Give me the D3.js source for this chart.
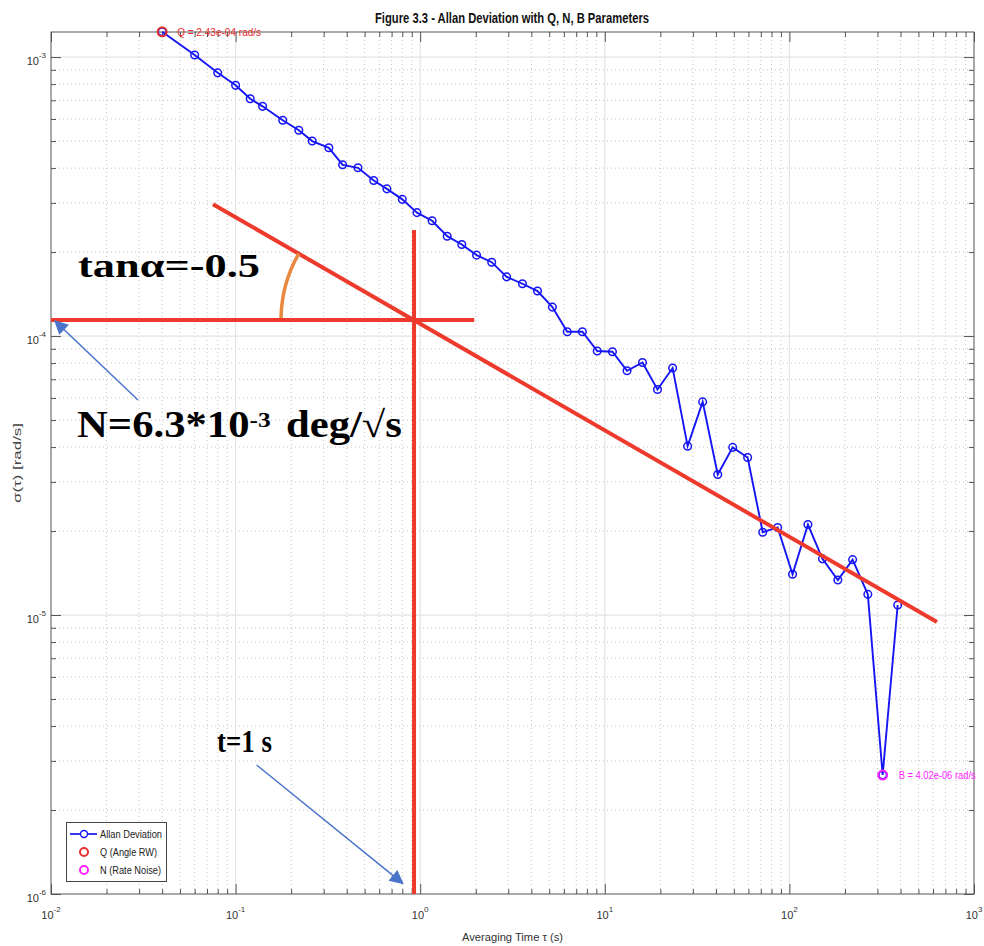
<!DOCTYPE html>
<html><head><meta charset="utf-8">
<script src="https://cdn.jsdelivr.net/npm/d3@7"></script>
<style>body{margin:0;background:#fff}</style>
</head><body>
<svg id="c" width="984" height="946" xmlns="http://www.w3.org/2000/svg"></svg>
<script>
// ---------------- data ----------------
const tau = [0.04, 0.06, 0.08, 0.10, 0.12, 0.14, 0.18, 0.22, 0.26, 0.32, 0.38, 0.46, 0.56, 0.66, 0.80, 0.96,
  1.16, 1.40, 1.68, 2.02, 2.44, 2.94, 3.58, 4.32, 5.2, 6.26, 7.56, 9.1, 11.0, 13.2, 16.0, 19.3, 23.3, 28.1,
  33.9, 40.9, 49.3, 59.4, 71.7, 86.4, 104, 126, 151, 183, 220, 266, 320, 386];
const sigma = [1.232e-3, 1.017e-3, 8.78e-4, 7.92e-4, 7.09e-4, 6.66e-4, 5.94e-4, 5.47e-4, 5.00e-4, 4.73e-4,
  4.11e-4, 4.01e-4, 3.61e-4, 3.37e-4, 3.09e-4, 2.77e-4, 2.59e-4, 2.28e-4, 2.13e-4, 1.95e-4, 1.84e-4, 1.63e-4,
  1.54e-4, 1.45e-4, 1.27e-4, 1.036e-4, 1.036e-4, 8.84e-5, 8.79e-5, 7.51e-5, 8.04e-5, 6.43e-5, 7.68e-5, 4.03e-5,
  5.81e-5, 3.19e-5, 3.99e-5, 3.67e-5, 1.98e-5, 2.06e-5, 1.40e-5, 2.11e-5, 1.59e-5, 1.335e-5, 1.58e-5, 1.186e-5,
  2.67e-6, 1.086e-5];
const xTickValues = [1e-2, 1e-1, 1, 10, 100, 1000];
const xTickExps = ["-2", "-1", "0", "1", "2", "3"];
const yTickValues = [1e-6, 1e-5, 1e-4, 1e-3];
const yTickExps = ["-6", "-5", "-4", "-3"];
const qPoint = [0.04, 1.232e-3];
const qLabel = "Q = 2.43e-04 rad/s";
const bPoint = [320, 2.67e-6];
const bLabel = "B = 4.02e-06 rad/s";
const legendLabels = ["Allan Deviation", "Q (Angle RW)", "N (Rate Noise)"];
const titleText = "Figure 3.3 - Allan Deviation with Q, N, B Parameters";
const xLabelText = "Averaging Time \u03C4 (s)";
const yLabelText = "\u03C3(\u03C4) [rad/s]";
// annotation geometry in data units
const slopeLine = [[0.0754, 2.97e-4], [630, 9.44e-6]];
const nLevelLine = [[0.01, 1.141e-4], [1.96, 1.141e-4]];
const tLine = [[0.926, 2.40e-4], [0.926, 1e-6]];
const nArrow = [[0.0296, 5.9e-5], [0.01051, 1.132e-4]];
const tArrow = [[0.130, 2.9e-6], [0.804, 1.092e-6]];

// ---------------- layout ----------------
const L = 51, R = 974, T = 32, B = 894;
const x = d3.scaleLog().domain([0.01, 1000]).range([L, R]);
const y = d3.scaleLog().domain([1e-6, 1.23e-3]).range([B, T]);
const svg = d3.select("#c");
svg.append("rect").attr("width", 984).attr("height", 946).attr("fill", "#fff");

const xMinor = [], yMinor = [];
for (let d = -2; d <= 2; d++) for (let m = 2; m <= 9; m++) xMinor.push(m * Math.pow(10, d));
for (let d = -6; d <= -4; d++) for (let m = 2; m <= 9; m++) yMinor.push(m * Math.pow(10, d));

// grid
const grid = svg.append("g");
grid.selectAll(".gxm").data(xMinor).join("line")
  .attr("x1", d => x(d)).attr("x2", d => x(d)).attr("y1", T).attr("y2", B)
  .attr("stroke", "#c4c4c4").attr("stroke-width", 1).attr("stroke-dasharray", "1,3");
grid.selectAll(".gym").data(yMinor).join("line")
  .attr("y1", d => y(d)).attr("y2", d => y(d)).attr("x1", L).attr("x2", R)
  .attr("stroke", "#c4c4c4").attr("stroke-width", 1).attr("stroke-dasharray", "1,3");
grid.selectAll(".gxM").data(xTickValues.slice(1, -1)).join("line")
  .attr("x1", d => x(d)).attr("x2", d => x(d)).attr("y1", T).attr("y2", B)
  .attr("stroke", "#e4e4e4").attr("stroke-width", 1.2);
grid.selectAll(".gyM").data(yTickValues.slice(1)).join("line")
  .attr("y1", d => y(d)).attr("y2", d => y(d)).attr("x1", L).attr("x2", R)
  .attr("stroke", "#e4e4e4").attr("stroke-width", 1.2);

// axes ticks (inward)
function ax(gen, vals, size, tr) {
  const g = svg.append("g").attr("transform", tr)
    .call(gen.tickValues(vals).tickSize(-size).tickFormat(""));
  g.select(".domain").remove();
  g.selectAll(".tick line").attr("stroke", "#555").attr("stroke-width", 1);
}
ax(d3.axisBottom(x), xTickValues, 10, `translate(0,${B})`);
ax(d3.axisBottom(x), xMinor, 5, `translate(0,${B})`);
ax(d3.axisTop(x), xTickValues, 10, `translate(0,${T})`);
ax(d3.axisTop(x), xMinor, 5, `translate(0,${T})`);
ax(d3.axisLeft(y), yTickValues, 10, `translate(${L},0)`);
ax(d3.axisLeft(y), yMinor, 5, `translate(${L},0)`);
ax(d3.axisRight(y), yTickValues, 10, `translate(${R},0)`);
ax(d3.axisRight(y), yMinor, 5, `translate(${R},0)`);

svg.append("rect").attr("x", L).attr("y", T).attr("width", R - L).attr("height", B - T)
  .attr("fill", "none").attr("stroke", "#555").attr("stroke-width", 1);

// tick labels with superscripts
const font = "'Liberation Sans', Arial, Helvetica, sans-serif";
xTickValues.forEach((v, i) => {
  const t = svg.append("text").attr("x", x(v)).attr("y", 919).attr("text-anchor", "middle")
    .attr("font-family", font).attr("font-size", 11).attr("fill", "#333");
  t.append("tspan").text("10");
  t.append("tspan").attr("dy", -7).attr("font-size", 8).text(xTickExps[i]);
});
yTickValues.forEach((v, i) => {
  const t = svg.append("text").attr("x", 46).attr("y", y(v) + 8).attr("text-anchor", "end")
    .attr("font-family", font).attr("font-size", 11).attr("fill", "#333");
  t.append("tspan").text("10");
  t.append("tspan").attr("dy", -7).attr("font-size", 8).text(yTickExps[i]);
});

// title and axis labels
svg.append("text").attr("x", 375).attr("y", 23).attr("font-family", font).attr("font-weight", "bold")
  .attr("font-size", 14).attr("fill", "#111").attr("textLength", 274).attr("lengthAdjust", "spacingAndGlyphs")
  .text(titleText);
svg.append("text").attr("x", 462).attr("y", 941).attr("font-family", font)
  .attr("font-size", 11.5).attr("fill", "#333").attr("textLength", 101).attr("lengthAdjust", "spacingAndGlyphs")
  .text(xLabelText);
svg.append("text").attr("transform", "translate(21,503) rotate(-90)").attr("font-family", font)
  .attr("font-size", 11.5).attr("fill", "#444").attr("textLength", 80).attr("lengthAdjust", "spacingAndGlyphs")
  .text(yLabelText);

// ---------------- data line ----------------
const pts = tau.map((t, i) => [t, sigma[i]]);
const line = d3.line().x(d => x(d[0])).y(d => y(d[1]));
svg.append("path").attr("d", line(pts)).attr("fill", "none").attr("stroke", "#1515f5").attr("stroke-width", 1.9);
svg.selectAll(".pt").data(pts).join("circle")
  .attr("cx", d => x(d[0])).attr("cy", d => y(d[1])).attr("r", 3.8)
  .attr("fill", "none").attr("stroke", "#1515f5").attr("stroke-width", 1.5);

// Q and B markers
svg.append("circle").attr("cx", x(qPoint[0])).attr("cy", y(qPoint[1])).attr("r", 4.5)
  .attr("fill", "none").attr("stroke", "#e83030").attr("stroke-width", 2);
svg.append("text").attr("x", x(qPoint[0]) + 15).attr("y", y(qPoint[1]) + 4)
  .attr("font-family", font).attr("font-size", 10.5).attr("fill", "#e83030")
  .attr("textLength", 84).attr("lengthAdjust", "spacingAndGlyphs").text(qLabel);
svg.append("circle").attr("cx", x(bPoint[0])).attr("cy", y(bPoint[1])).attr("r", 4.5)
  .attr("fill", "none").attr("stroke", "#ff22ff").attr("stroke-width", 2);
svg.append("text").attr("x", x(bPoint[0]) + 16).attr("y", y(bPoint[1]) + 4)
  .attr("font-family", font).attr("font-size", 10.5).attr("fill", "#ff22ff")
  .attr("textLength", 77).attr("lengthAdjust", "spacingAndGlyphs").text(bLabel);

// ---------------- legend ----------------
const lg = svg.append("g");
lg.append("rect").attr("x", 66.5).attr("y", 822.5).attr("width", 100).attr("height", 59)
  .attr("fill", "#fff").attr("stroke", "#444").attr("stroke-width", 1);
lg.append("line").attr("x1", 70).attr("x2", 97).attr("y1", 834).attr("y2", 834)
  .attr("stroke", "#1515f5").attr("stroke-width", 1.7);
lg.append("circle").attr("cx", 84).attr("cy", 834).attr("r", 3.5).attr("fill", "#fff")
  .attr("stroke", "#1515f5").attr("stroke-width", 1.4);
lg.append("circle").attr("cx", 84).attr("cy", 852).attr("r", 4).attr("fill", "none")
  .attr("stroke", "#e83030").attr("stroke-width", 2);
lg.append("circle").attr("cx", 84).attr("cy", 870).attr("r", 4).attr("fill", "none")
  .attr("stroke", "#ff22ff").attr("stroke-width", 2);
const lgW = [62, 57, 61];
legendLabels.forEach((s, i) => {
  lg.append("text").attr("x", 100).attr("y", 837.5 + i * 18).attr("font-family", font)
    .attr("font-size", 10).attr("fill", "#222").attr("textLength", lgW[i])
    .attr("lengthAdjust", "spacingAndGlyphs").text(s);
});

// ---------------- annotations ----------------
const red = "#ee3a2c";
const ann = svg.append("g");
[slopeLine, nLevelLine, tLine].forEach(seg => {
  ann.append("path").attr("d", line(seg)).attr("stroke", red).attr("stroke-width", 4).attr("fill", "none");
});
// angle arc
const cx = x(tLine[0][0]), cy = y(nLevelLine[0][1]);
const sx0 = x(slopeLine[0][0]), sy0 = y(slopeLine[0][1]);
const len = Math.hypot(sx0 - cx, sy0 - cy), r = 133;
const ex = cx + (sx0 - cx) / len * r, ey = cy + (sy0 - cy) / len * r;
ann.append("path").attr("d", `M${cx - r},${cy - 2} A${r},${r} 0 0 1 ${ex},${ey}`)
  .attr("fill", "none").attr("stroke", "#e8893f").attr("stroke-width", 3.5);

// arrows
const blue = "#4a74c9";
svg.append("defs").append("marker").attr("id", "ah").attr("viewBox", "0 0 10 10")
  .attr("refX", 9).attr("refY", 5).attr("markerWidth", 18).attr("markerHeight", 14)
  .attr("markerUnits", "userSpaceOnUse").attr("orient", "auto")
  .append("path").attr("d", "M0,0 L10,5 L0,10 z").attr("fill", blue);
[nArrow, tArrow].forEach(seg => {
  ann.append("path").attr("d", line(seg)).attr("stroke", blue).attr("stroke-width", 1.5)
    .attr("fill", "none").attr("marker-end", "url(#ah)");
});

// big serif texts fitted to measured widths
const serif = "'Liberation Serif', 'Times New Roman', serif";
function fit(g, x0, width, base) {
  const bb = g.node().getBBox();
  g.attr("transform", `translate(${x0},${base}) scale(${width / bb.width},1) translate(${-bb.x},0)`);
}
let g1 = svg.append("g");
g1.append("text").attr("font-family", serif).attr("font-weight", "bold").attr("font-size", 33)
  .attr("fill", "#000").text("tan\u03B1=-0.5");
fit(g1, 78, 182, 277);
let g2 = svg.append("g");
const t2 = g2.append("text").attr("font-family", serif).attr("font-weight", "bold").attr("font-size", 37).attr("fill", "#000");
t2.append("tspan").text("N=6.3*10");
t2.append("tspan").attr("font-size", 22).attr("dy", -10).text("-3");
t2.append("tspan").attr("dy", 10).attr("dx", 4).text(" deg/\u221As");
fit(g2, 77, 325, 437);
let g3 = svg.append("g");
g3.append("text").attr("font-family", serif).attr("font-weight", "bold").attr("font-size", 32)
  .attr("fill", "#000").text("t=1 s");
fit(g3, 217, 55, 752);
</script>
</body></html>
